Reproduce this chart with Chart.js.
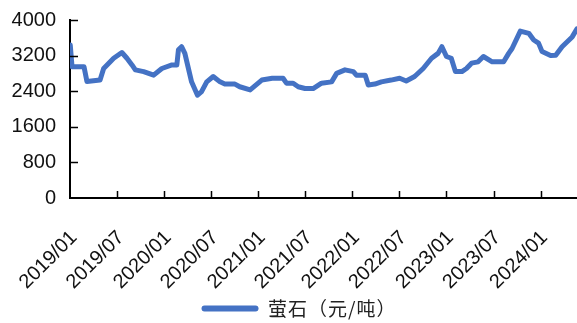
<!DOCTYPE html>
<html>
<head>
<meta charset="utf-8">
<script src="https://cdn.jsdelivr.net/npm/chart.js@4.4.1/dist/chart.umd.min.js"></script>
<style>
  html, body { margin: 0; padding: 0; background: #fff; }
  #wrap { width: 577px; height: 323px; }
</style>
</head>
<body>
<div id="wrap"><canvas id="c"></canvas></div>
<script>
// Fluorite price, yuan per tonne
const seriesName = '萤石（元/吨）';

const dates = [
  '2019-01-02','2019-01-09','2019-02-23','2019-03-06','2019-04-26','2019-05-10',
  '2019-06-18','2019-07-20','2019-08-09','2019-08-29','2019-09-11','2019-10-13',
  '2019-11-21','2019-12-23','2020-02-01','2020-02-19','2020-02-25','2020-03-08',
  '2020-03-21','2020-04-16','2020-05-09','2020-05-25','2020-06-14','2020-07-09',
  '2020-08-05','2020-08-24','2020-10-02','2020-10-21','2020-11-30','2021-01-15',
  '2021-02-23','2021-04-06','2021-04-19','2021-05-15','2021-06-04','2021-06-30',
  '2021-08-01','2021-09-03','2021-10-12','2021-11-01','2021-12-03','2022-01-05',
  '2022-01-17','2022-02-19','2022-03-02','2022-03-28','2022-04-22','2022-05-30',
  '2022-07-02','2022-07-28','2022-08-30','2022-10-02','2022-11-04','2022-11-29',
  '2022-12-14','2023-01-01','2023-01-20','2023-02-05','2023-02-28','2023-03-18',
  '2023-04-07','2023-05-02','2023-05-23','2023-06-26','2023-08-10','2023-08-30',
  '2023-09-12','2023-10-14','2023-11-16','2023-12-05','2023-12-24','2024-01-07',
  '2024-02-09','2024-02-28','2024-03-24','2024-04-13','2024-05-02','2024-05-21'
];

const prices = [
  3440, 2950, 2950, 2620, 2650, 2910,
  3140, 3270, 3140, 2990, 2880, 2840,
  2760, 2910, 2990, 2990, 3330, 3400,
  3250, 2610, 2310, 2390, 2610, 2730,
  2610, 2560, 2560, 2500, 2430, 2650,
  2690, 2690, 2580, 2580, 2500, 2460,
  2460, 2580, 2610, 2800, 2880, 2840,
  2760, 2760, 2540, 2560, 2610, 2650,
  2690, 2630, 2730, 2910, 3140, 3250,
  3400, 3180, 3140, 2840, 2840, 2910,
  3030, 3060, 3180, 3060, 3060, 3250,
  3360, 3750, 3700, 3550, 3480, 3290,
  3200, 3210, 3400, 3510, 3620, 3800
];

const tickLabels = ['2019/01','2019/07','2020/01','2020/07','2021/01','2021/07',
                    '2022/01','2022/07','2023/01','2023/07','2024/01'];
const yTicks = [0, 800, 1600, 2400, 3200, 4000];

// months elapsed since 2019-01-01
function monthIndex(s) {
  const [y, m, d] = s.split('-').map(Number);
  const dim = new Date(y, m, 0).getDate();
  return (y - 2019) * 12 + (m - 1) + (d - 1) / dim;
}
function labelMonth(lbl) {
  const [y, m] = lbl.split('/').map(Number);
  return (y - 2019) * 12 + (m - 1);
}

const tickPositions = tickLabels.map(labelMonth);
const xEnd = monthIndex(dates[dates.length - 1]);
const points = dates.map((d, i) => ({ x: monthIndex(d), y: prices[i] }));

const BLUE = '#4472C4';
const AXIS_FONT = '"Liberation Sans", Arial, sans-serif';

// short tick marks pointing into the plot area
const innerTicks = {
  id: 'innerTicks',
  afterDatasetsDraw(chart) {
    const { ctx, chartArea: a, scales: { x, y } } = chart;
    ctx.save();
    ctx.strokeStyle = '#000';
    ctx.lineWidth = 1.5;
    ctx.beginPath();
    x.ticks.forEach(t => {
      if (t.value === 0) return;
      const px = Math.round(x.getPixelForValue(t.value)) + 0.5;
      ctx.moveTo(px, a.bottom);
      ctx.lineTo(px, a.bottom - 7);
    });
    y.ticks.forEach(t => {
      if (t.value === 0) return;
      const py = Math.round(y.getPixelForValue(t.value)) + 0.5;
      ctx.moveTo(a.left, py);
      ctx.lineTo(a.left + 8, py);
    });
    ctx.stroke();
    ctx.restore();
  }
};

const chart = new Chart(document.getElementById('c'), {
  type: 'line',
  data: {
    datasets: [{
      label: seriesName,
      data: points,
      borderColor: BLUE,
      backgroundColor: BLUE,
      borderWidth: 5,
      pointRadius: 0,
      tension: 0,
      borderJoinStyle: 'round',
      borderCapStyle: 'round'
    }]
  },
  options: {
    responsive: true,
    maintainAspectRatio: false,
    animation: false,
    devicePixelRatio: 1,
    layout: { padding: { top: 20, right: 0, left: 0, bottom: -5 } },
    scales: {
      x: {
        type: 'linear',
        min: 0,
        max: xEnd,
        afterBuildTicks: s => { s.ticks = tickPositions.map(v => ({ value: v })); },
        afterFit: s => { s.height = 95; s.paddingLeft = 0; s.paddingRight = 0; },
        ticks: {
          autoSkip: false,
          minRotation: 45,
          maxRotation: 45,
          padding: 28,
          labelOffset: 4,
          color: '#111',
          font: { family: AXIS_FONT, size: 20 },
          callback: v => tickLabels[tickPositions.indexOf(v)]
        },
        grid: { display: false, drawTicks: false },
        border: { display: true, color: '#000', width: 2 }
      },
      y: {
        min: 0,
        max: 4000,
        afterBuildTicks: s => { s.ticks = yTicks.map(v => ({ value: v })); },
        afterFit: s => { s.width = 70; s.paddingTop = 0; s.paddingBottom = 0; },
        ticks: {
          padding: 14,
          color: '#111',
          font: { family: AXIS_FONT, size: 20 },
          callback: v => String(v)
        },
        grid: { display: false, drawTicks: false },
        border: { display: true, color: '#000', width: 2 }
      }
    },
    plugins: {
      tooltip: { enabled: false },
      legend: {
        position: 'bottom',
        labels: {
          boxWidth: 57,
          boxHeight: 6,
          useBorderRadius: true,
          borderRadius: 3,
          padding: 6,
          color: '#222',
          font: { family: '"Noto Sans CJK SC", sans-serif', size: 19 },
          generateLabels: c =>
            Chart.defaults.plugins.legend.labels.generateLabels(c)
              .map(item => Object.assign(item, { lineWidth: 0 }))
        }
      }
    }
  },
  plugins: [innerTicks]
});

// legend entry sits slightly right of centre, with looser character spacing
const legendDraw = chart.legend.draw.bind(chart.legend);
chart.legend.draw = function (area) {
  const ctx = this.ctx;
  ctx.save();
  ctx.translate(7, 0);
  ctx.letterSpacing = '1px';
  legendDraw(area);
  ctx.restore();
};
chart.draw();
</script>
</body>
</html>
